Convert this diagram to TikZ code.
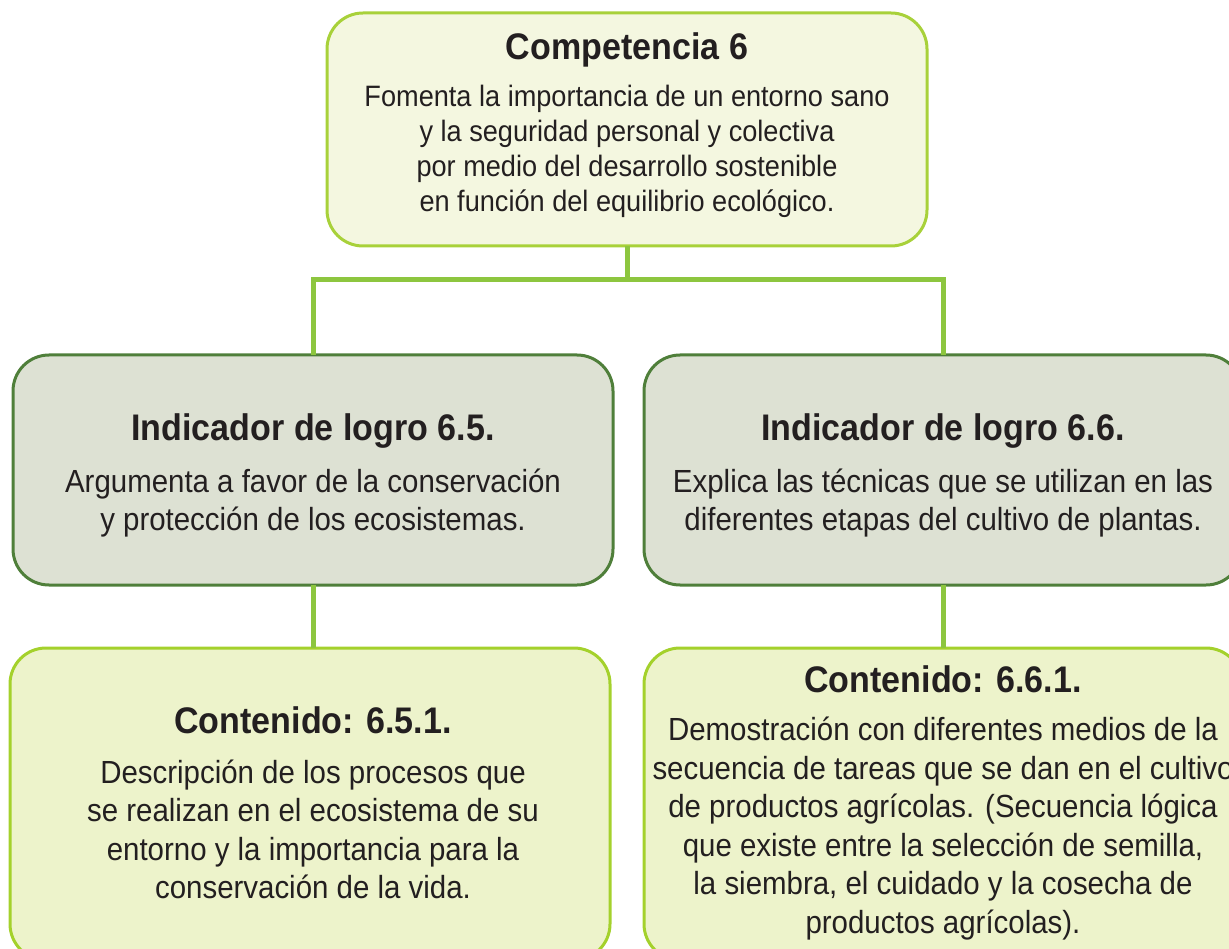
\documentclass[tikz,border=0pt]{standalone}
\usepackage{fontspec}
\setmainfont[FakeStretch=0.92]{Liberation Sans}
\definecolor{topfill}{HTML}{F4F7E0}
\definecolor{topline}{HTML}{A8D13A}
\definecolor{indfill}{HTML}{DDE1D3}
\definecolor{indline}{HTML}{4F7F3A}
\definecolor{confill}{HTML}{EDF3CB}
\definecolor{conline}{HTML}{A4D12C}
\definecolor{connc}{HTML}{8DC63F}
\definecolor{txt}{HTML}{231F20}
\begin{document}
\begin{tikzpicture}[x=1pt,y=-1pt,
  boxbase/.style={rectangle, rounded corners=36pt, line width=3pt, anchor=north west, inner sep=0pt, outer sep=0pt},
  topbox/.style={boxbase, draw=topline, fill=topfill},
  indbox/.style={boxbase, draw=indline, fill=indfill},
  conbox/.style={boxbase, draw=conline, fill=confill},
  conn/.style={draw=connc, line width=5pt},
  ttl/.style={font=\fontsize{37}{44}\selectfont\bfseries, text=txt, inner sep=0pt, anchor=base},
  topbody/.style={font=\fontsize{29.5}{35}\selectfont, text=txt, inner sep=0pt, anchor=base},
  body/.style={font=\fontsize{32}{38}\selectfont, text=txt, inner sep=0pt, anchor=base}]
\useasboundingbox (0,0) rectangle (1229,949);
\clip (0,0) rectangle (1229,949);
% boxes
\node[topbox, minimum width=600pt, minimum height=233pt] (top) at (327,13) {};
\node[indbox, minimum width=600pt, minimum height=230pt] (ind1) at (13,355) {};
\node[indbox, minimum width=598pt, minimum height=230pt] (ind2) at (644,355) {};
\node[conbox, minimum width=600pt, minimum height=312pt] (con1) at (10,648) {};
\node[conbox, minimum width=598pt, minimum height=312pt] (con2) at (644,648) {};
% connectors
\coordinate (j) at (top.south |- 0,280);
\draw[conn] (top.south) -- (j);
\draw[conn] (ind1.north) |- (j) -| (ind2.north);
\draw[conn] (ind1.south) -- (ind1.south |- con1.north);
\draw[conn] (ind2.south) -- (ind2.south |- con2.north);
% top text
\node[ttl] (tt) at (627,60) {Competencia 6};
\node[topbody] (tb1) at (627,107) {Fomenta la importancia de un entorno sano};
\node[topbody] (tb2) at (627,142) {y la seguridad personal y colectiva};
\node[topbody] (tb3) at (627,177) {por medio del desarrollo sostenible};
\node[topbody] (tb4) at (627,212) {en función del equilibrio ecológico.};
% indicator 6.5
\node[ttl] (it1) at (313,440) {Indicador de logro 6.5.};
\node[body] (ib11) at (313,492) {Argumenta a favor de la conservación};
\node[body] (ib12) at (313,530) {y protección de los ecosistemas.};
% indicator 6.6
\node[ttl] (it2) at (943,440) {Indicador de logro 6.6.};
\node[body] (ib21) at (943,492) {Explica las técnicas que se utilizan en las};
\node[body] (ib22) at (943,530) {diferentes etapas del cultivo de plantas.};
% content 6.5.1
\node[ttl] (ct1) at (313,733) {Contenido: 6.5.1.};
\node[body] (cb11) at (313,783) {Descripción de los procesos que};
\node[body] (cb12) at (313,821) {se realizan en el ecosistema de su};
\node[body] (cb13) at (313,860) {entorno y la importancia para la};
\node[body] (cb14) at (313,898) {conservación de la vida.};
% content 6.6.1
\node[ttl] (ct2) at (943,692) {Contenido: 6.6.1.};
\node[body] (cb21) at (943,740) {Demostración con diferentes medios de la};
\node[body] (cb22) at (943,779) {secuencia de tareas que se dan en el cultivo};
\node[body] (cb23) at (943,817) {de productos agrícolas. (Secuencia lógica};
\node[body] (cb24) at (943,856) {que existe entre la selección de semilla,};
\node[body] (cb25) at (943,894) {la siembra, el cuidado y la cosecha de};
\node[body] (cb26) at (943,933) {productos agrícolas).};
\end{tikzpicture}
\end{document}
